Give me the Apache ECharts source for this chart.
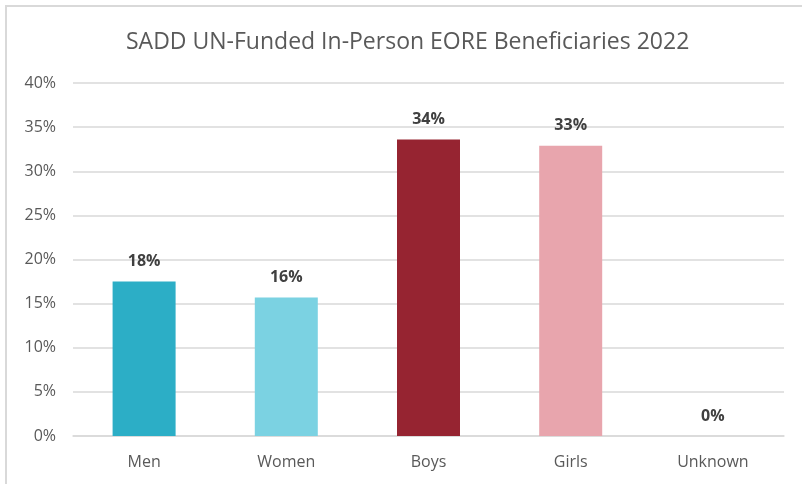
<!DOCTYPE html>
<html>
<head>
<meta charset="utf-8">
<script src="https://cdn.jsdelivr.net/npm/echarts@6/dist/echarts.min.js"></script>
<style>
  html, body { margin: 0; padding: 0; background: #fff; overflow: hidden; }
  #frame { position: absolute; left: 5px; top: 5px; width: 820px; height: 500px; border: 2px solid #d9d9d9; box-sizing: border-box; }
  #chart { position: absolute; left: 0; top: 0; width: 802px; height: 484px; }
</style>
</head>
<body>
<div id="frame"></div>
<div id="chart"></div>
<script>
// 数据
var categories = ['Men', 'Women', 'Boys', 'Girls', 'Unknown'];
var shares = [17.5, 15.7, 33.6, 32.9, 0];
var barColors = ['#2caec6', '#7bd2e2', '#962431', '#e8a5ad', '#e8a5ad'];

var myChart = echarts.init(document.getElementById('chart'));

var option = {
    title: {
        text: 'SADD UN-Funded In-Person EORE Beneficiaries 2022',
        left: 121,
        top: 26,
        textStyle: {
            fontFamily: 'Open Sans',
            fontSize: 23,
            fontWeight: 'normal',
            color: '#595959'
        }
    },
    grid: {
        left: 73,
        right: 18,
        top: 83,
        bottom: 48
    },
    xAxis: {
        type: 'category',
        data: categories,
        axisTick: { show: false },
        axisLine: { lineStyle: { color: '#d9d9d9', width: 1.5 } },
        axisLabel: {
            margin: 18,
            fontFamily: 'Open Sans',
            fontSize: 16,
            color: '#595959'
        }
    },
    yAxis: {
        type: 'value',
        min: 0,
        max: 40,
        interval: 5,
        axisLine: { show: false },
        axisTick: { show: false },
        splitLine: { lineStyle: { color: '#d9d9d9', width: 1.5 } },
        axisLabel: {
            margin: 17,
            fontFamily: 'Open Sans',
            fontSize: 16,
            color: '#595959',
            formatter: '{value}%'
        }
    },
    series: [
        {
            type: 'bar',
            barWidth: 63,
            data: shares.map(function (v, i) {
                return { value: v, itemStyle: { color: barColors[i] } };
            }),
            label: {
                show: true,
                position: 'top',
                distance: 12,
                fontFamily: 'Open Sans',
                fontSize: 16,
                fontWeight: 'bold',
                color: '#404040',
                formatter: function (p) {
                    return Math.round(p.value) + '%';
                }
            }
        }
    ]
};

myChart.setOption(option);
</script>
</body>
</html>
